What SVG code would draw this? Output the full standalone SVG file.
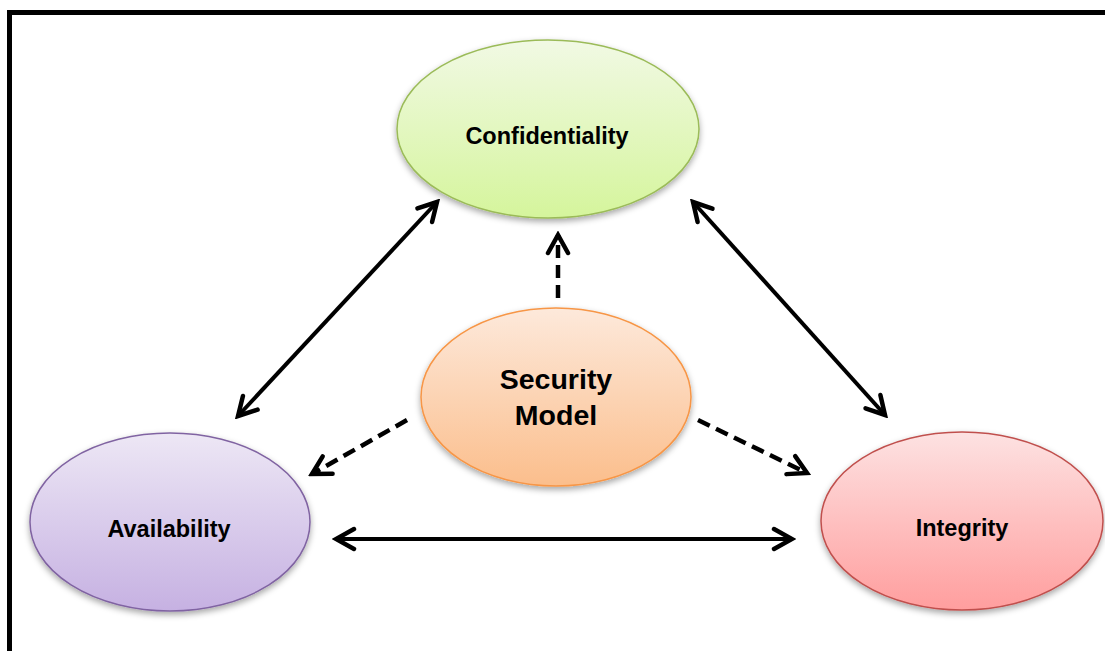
<svg xmlns="http://www.w3.org/2000/svg" width="1105" height="651" viewBox="0 0 1105 651">
  <style>
    .lbl { font-family: "Liberation Sans", Arial, sans-serif; font-weight: bold; fill: #000; text-anchor: middle; }
    .small { font-size: 23.5px; }
    .big { font-size: 28.5px; }
    .solid { fill: none; stroke: #000; stroke-width: 4; marker-start: url(#head); marker-end: url(#head); }
    .dash { fill: none; stroke: #000; stroke-width: 4.5; stroke-dasharray: 13 7; marker-end: url(#head); }
    .node { filter: url(#shadow); stroke-width: 1.5; }
  </style>
  <defs>
    <marker id="head" viewBox="-24 -14 28 28" markerWidth="28" markerHeight="28" refX="0" refY="0" orient="auto-start-reverse" markerUnits="userSpaceOnUse">
      <path d="M-18,-10 L0,0 L-18,10" fill="none" stroke="#000" stroke-width="4.5" stroke-linecap="round" stroke-linejoin="miter"/>
    </marker>
    <filter id="shadow" x="-20%" y="-20%" width="140%" height="150%">
      <feDropShadow dx="0" dy="3" stdDeviation="3" flood-color="#000" flood-opacity="0.35"/>
    </filter>
    <linearGradient id="gGreen" x1="0" y1="0" x2="0" y2="1">
      <stop offset="0" stop-color="#f1f9e4"/>
      <stop offset="1" stop-color="#d5f59c"/>
    </linearGradient>
    <linearGradient id="gOrange" x1="0" y1="0" x2="0" y2="1">
      <stop offset="0" stop-color="#fde9db"/>
      <stop offset="1" stop-color="#fbbe8c"/>
    </linearGradient>
    <linearGradient id="gPurple" x1="0" y1="0" x2="0" y2="1">
      <stop offset="0" stop-color="#ede7f5"/>
      <stop offset="1" stop-color="#c6b1e2"/>
    </linearGradient>
    <linearGradient id="gRed" x1="0" y1="0" x2="0" y2="1">
      <stop offset="0" stop-color="#fde2e2"/>
      <stop offset="1" stop-color="#ff9e9e"/>
    </linearGradient>
  </defs>

  <rect x="0" y="0" width="1105" height="651" fill="#fff"/>
  <rect id="frame" x="9.5" y="12.5" width="1200" height="700" fill="none" stroke="#000" stroke-width="5"/>

  <g id="connectors">
    <line class="solid" x1="437" y1="202" x2="238" y2="416"/>
    <line class="solid" x1="693" y1="202" x2="885" y2="415"/>
    <line class="solid" x1="336" y1="539" x2="792" y2="539"/>
    <line class="dash" x1="558" y1="298" x2="558" y2="235"/>
    <line class="dash" x1="407" y1="420" x2="312" y2="474"/>
    <line class="dash" x1="698" y1="420" x2="807" y2="473"/>
  </g>

  <g id="confidentiality">
    <ellipse class="node" cx="548" cy="129" rx="151" ry="89" fill="url(#gGreen)" stroke="#9bbb59"/>
    <text class="lbl small" x="547" y="144">Confidentiality</text>
  </g>

  <g id="security-model">
    <ellipse class="node" cx="556" cy="397" rx="135" ry="89" fill="url(#gOrange)" stroke="#f79646"/>
    <text class="lbl big" x="556" y="389">Security</text>
    <text class="lbl big" x="556" y="425">Model</text>
  </g>

  <g id="availability">
    <ellipse class="node" cx="170" cy="522" rx="140" ry="89" fill="url(#gPurple)" stroke="#8064a2"/>
    <text class="lbl small" x="169" y="537">Availability</text>
  </g>

  <g id="integrity">
    <ellipse class="node" cx="962" cy="521" rx="141" ry="89" fill="url(#gRed)" stroke="#c0504d"/>
    <text class="lbl small" x="962" y="536">Integrity</text>
  </g>
</svg>
